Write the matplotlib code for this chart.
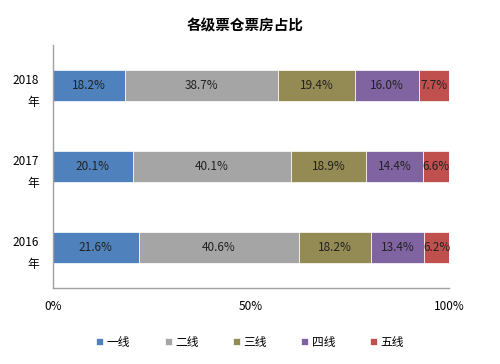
import matplotlib.pyplot as plt
import numpy as np

plt.rcParams['font.family'] = ['Noto Sans CJK SC', 'DejaVu Sans']

# === DATA ===
years = ['2018\n年', '2017\n年', '2016\n年']
series = ['一线', '二线', '三线', '四线', '五线']
tier1 = [18.2, 20.1, 21.6]
tier2 = [38.7, 40.1, 40.6]
tier3 = [19.4, 18.9, 18.2]
tier4 = [16.0, 14.4, 13.4]
tier5 = [7.7, 6.6, 6.2]
colors = ['#4F81BD', '#A5A5A5', '#948A54', '#8064A2', '#C0504D']

# === PLOT ===
fig = plt.figure(figsize=(5, 3.64), dpi=100)
ax = fig.add_axes([0.106, 0.209, 0.792, 0.667])

y = np.arange(len(years))
left = np.zeros(len(years))
for name, vals, c in zip(series, [tier1, tier2, tier3, tier4, tier5], colors):
    vals = np.array(vals)
    bars = ax.barh(y, vals, left=left, height=0.39, color=c, label=name,
                   edgecolor='white', linewidth=0.5)
    for b, v in zip(bars, vals):
        ax.text(b.get_x() + b.get_width() / 2, b.get_y() + b.get_height() / 2,
                f'{v:.1f}%', ha='center', va='center', fontsize=8.5, color='#222222')
    left += vals

ax.set_ylim(2.5, -0.5)
ax.set_xlim(0, 100)
ax.set_yticks(y)
ax.set_yticklabels(years, fontsize=8.5, linespacing=1.9)
ax.set_xticks([0, 50, 100])
ax.set_xticklabels(['0%', '50%', '100%'], fontsize=8.5)
ax.tick_params(length=0)
ax.tick_params(axis='x', pad=9)
ax.tick_params(axis='y', pad=10)
for s in ['top', 'right']:
    ax.spines[s].set_visible(False)
for s in ['left', 'bottom']:
    ax.spines[s].set_color('#A0A0A0')
    ax.spines[s].set_linewidth(1)

fig.text(0.49, 0.93, '各级票仓票房占比', ha='center', va='center',
         fontsize=10.5, fontweight='bold')

fig.legend(loc='center', bbox_to_anchor=(0.5, 0.06), ncol=5, frameon=False,
           fontsize=8.5, handlelength=0.6, handleheight=0.6, columnspacing=2.9,
           handletextpad=0.3)

fig.savefig('out.png', dpi=100)
